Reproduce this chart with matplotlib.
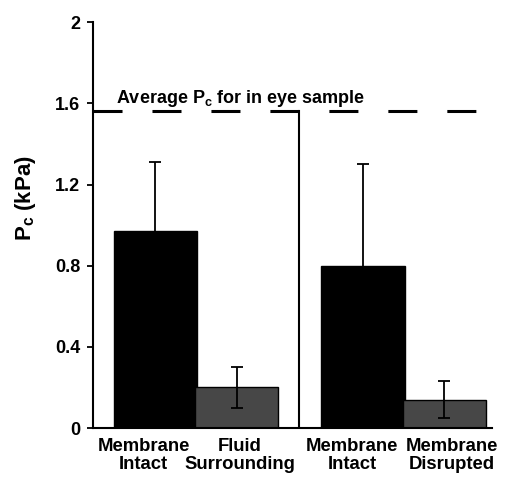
import matplotlib.pyplot as plt

plt.rcParams['font.family'] = ['Liberation Sans', 'DejaVu Sans']

# bar data (kPa)
labels = ['Membrane\nIntact', 'Fluid\nSurrounding', 'Membrane\nIntact', 'Membrane\nDisrupted']
means = [0.97, 0.20, 0.80, 0.14]
errors = [0.34, 0.10, 0.50, 0.09]
colors = ['black', '#474747', 'black', '#474747']
in_eye_avg = 1.56

positions = [0.75, 1.73, 3.25, 4.23]
label_pos = [0.61, 1.77, 3.12, 4.32]

fig = plt.figure(figsize=(5.05, 4.82), dpi=100)
ax = fig.add_axes([0.184, 0.112, 0.79, 0.842])

ax.bar(positions, means, width=1.0, color=colors, edgecolor='black', linewidth=1)
ax.errorbar(positions, means, yerr=errors, fmt='none', ecolor='black',
            elinewidth=1.3, capsize=4, capthick=1.3)

# divider between the two experiments
ax.plot([2.48, 2.48], [0, in_eye_avg], color='black', linewidth=1.5)

# average in-eye line
ax.plot([0, 4.8], [in_eye_avg, in_eye_avg], color='black', linewidth=2.2,
        linestyle=(0, (9.5, 9.8)))
ax.text(0.28, in_eye_avg + 0.014, 'Average P$_\\mathregular{c}$ for in eye sample',
        fontsize=13, fontweight='bold', va='bottom', ha='left')

ax.set_xlim(0, 4.8)
ax.set_ylim(0, 2)
ax.set_yticks([0, 0.4, 0.8, 1.2, 1.6, 2])
ax.set_yticklabels(['0', '0.4', '0.8', '1.2', '1.6', '2'], fontweight='bold')
ax.set_xticks(label_pos)
ax.set_xticklabels(labels, fontsize=13.3, fontweight='bold', linespacing=1.1)
ax.tick_params(axis='x', length=0, pad=7)
ax.tick_params(axis='y', labelsize=13, length=4, width=1.3, direction='out', pad=5)

ax.spines['top'].set_visible(False)
ax.spines['right'].set_visible(False)
ax.spines['left'].set_linewidth(1.5)
ax.spines['bottom'].set_linewidth(1.5)

ax.set_ylabel('P$_\\mathregular{c}$ (kPa)', fontsize=16, fontweight='bold')
ax.yaxis.set_label_coords(-0.137, 0.567)

fig.savefig('out.png', dpi=100)
